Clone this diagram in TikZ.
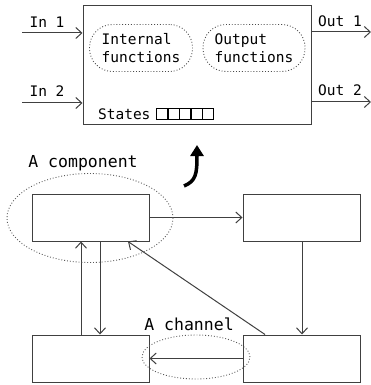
\documentclass[tikz,border=0pt]{standalone}
\usepackage{fontspec}
\newfontfamily\diafont{DejaVu Sans Mono}
\usetikzlibrary{arrows.meta,shapes.geometric}
\tikzset{
  box/.style={draw=black!75, line width=1pt, minimum width=117pt, minimum height=47pt, inner sep=0pt},
  blob/.style={draw=black!70, dotted, line width=0.9pt, rounded corners=23pt, minimum width=103pt, minimum height=47pt, inner sep=0pt, align=left},
  ring/.style={ellipse, draw=black!65, dotted, line width=0.9pt, inner sep=0pt},
  statebox/.style={draw=black, line width=1.4pt, minimum width=11.4pt, minimum height=11pt, inner sep=0pt, anchor=north west},
  wire/.style={draw=black!75, line width=1pt, -{Straight Barb[length=6pt,width=11pt]}},
  small/.style={font=\diafont\fontsize{14.5}{18}\selectfont},
  big/.style={font=\diafont\fontsize{16.5}{20}\selectfont}
}
\begin{document}
\begin{tikzpicture}[x=1pt,y=-1pt]
\useasboundingbox (0,0) rectangle (371,385);
% the component, opened up
\node[box, minimum width=228pt, minimum height=118pt] (comp) at (197,65) {};
\node[blob, small] (intf) at (141,48) {Internal\\functions};
\node[blob, small, minimum width=102pt] (outf) at (254,48) {Output\\functions};
\node[small, anchor=base east] (st) at (154,120) {States};
\foreach \i in {0,...,4} \node[statebox] (s\i) at (156+11.4*\i,108) {};
\coordinate (i1) at (22,33); \coordinate (i2) at (22,103);
\coordinate (o1) at (371,32); \coordinate (o2) at (371,102);
\draw[wire] (i1) -- (i1 -| comp.west);
\draw[wire] (i2) -- (i2 -| comp.west);
\draw[wire] (o1 -| comp.east) -- (o1);
\draw[wire] (o2 -| comp.east) -- (o2);
\node[small] (l1) at (47,22) {In 1}; \node[small] (l2) at (47,91) {In 2};
\node[small] (l3) at (340,21) {Out 1}; \node[small] (l4) at (340,90) {Out 2};
% zoom arrow
\coordinate (z0) at (184,186); \coordinate (z1) at (197,145);
\draw[line width=3.5pt, -{Triangle[length=11pt,width=13pt]}] (z0) .. controls (196,181) and (197,174) .. (z1);
% the network
\node[box] (a) at (90.5,217.5) {}; \node[box] (b) at (301.5,217.5) {};
\node[box] (c) at (90.5,358.5) {}; \node[box] (d) at (301.5,358.5) {};
\draw[wire] (a) -- (b);
\draw[wire] (b.south -| 302,0) -- (d.north -| 302,0);
\draw[wire] (c.north -| 81,0) -- (a.south -| 81,0);
\draw[wire] (a.south -| 100,0) -- (c.north -| 100,0);
\draw[wire] (d.north -| 265,0) -- (a.south -| 128,0);
\draw[wire] (d) -- (c);
\node[ring, minimum width=166pt, minimum height=89pt] (rc) at (90,218) {};
\node[ring, minimum width=108pt, minimum height=44pt] (rh) at (196,357) {};
\node[big] (lc) at (83,163) {A component};
\node[big] (lh) at (189,324) {A channel};
\end{tikzpicture}
\end{document}
